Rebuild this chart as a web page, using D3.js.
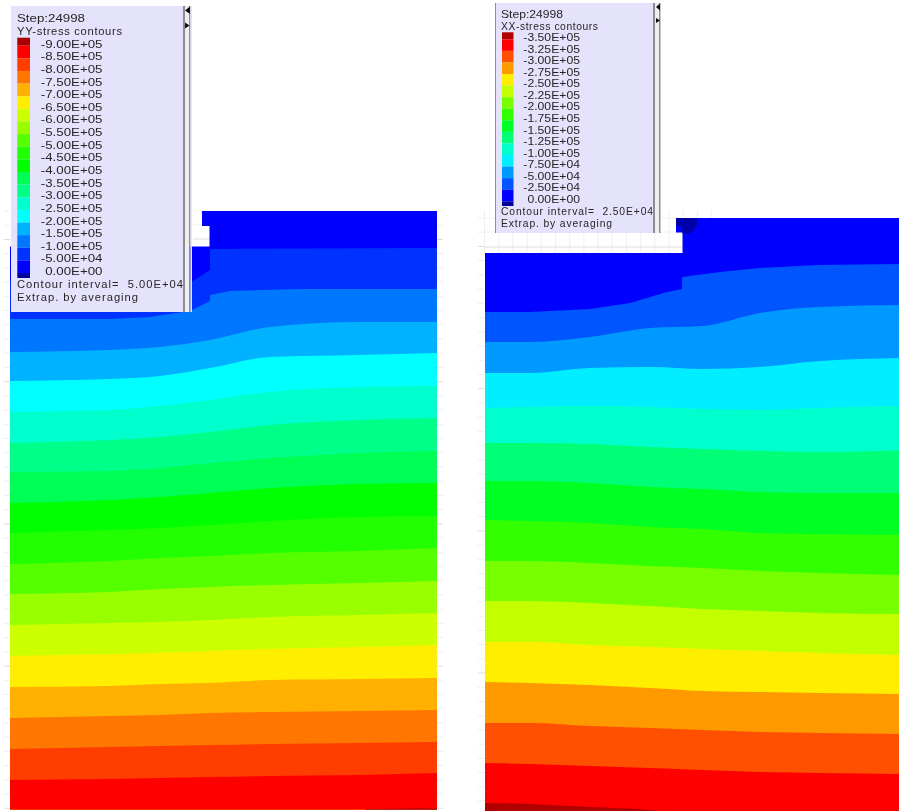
<!DOCTYPE html>
<html><head><meta charset="utf-8">
<script src="https://cdn.jsdelivr.net/npm/d3@7/dist/d3.min.js"></script>
<style>html,body{margin:0;background:#fff}svg{display:block}text{font-family:"Liberation Sans",Arial,sans-serif;fill:#262626;white-space:pre}</style>
</head><body><svg id="c" width="899" height="811"></svg>
<script>
// ---- YY stress panel: x along the model, depth below the model top
const yyX = [0,100,150,200,260,350,427];
const yyContours = [
 [141,139,136,129,116,111,111],
 [170,168,165,157,146,144,142],
 [201,199,195,189,181,176,175],
 [232,229,226,221,214,209,207],
 [261,260,257,252,247,242,240],
 [292,289,286,282,277,273,272],
 [322,319,317,314,310,306,305],
 [353,350,347,345,342,340,337],
 [383,381,378,376,374,372,370],
 [414,412,411,409,406,404,402],
 [445,443,442,440,438,436,434],
 [476,475,473,472,469,468,467],
 [507,505,504,502,501,500,499],
 [538,536,535,534,533,532,531],
 [569,568,567,566,565,564,562]
];
const yyFirst  = [[0,70],[183,70],[200,59],[200,38],[427,37]];
const yySecond = [[0,108],[100,108],[140,106],[180,100],[200,90],[200,84],[220,80],[290,78],[427,78]];
const yyLast   = [[355,598],[427,597.5]];
const yyColors = ["#0000ff","#0033ff","#0077ff","#00b2ff","#00ffff","#00ffcc","#00ff88","#00ff55","#00ff00","#22ff00","#55ff00","#99ff00","#ccff00","#ffee00","#ffb000","#ff7700","#ff3c00","#ff0000","#7a1010"];
const yyLegendColors = ["#a80000","#ff0000","#ff3c00","#ff7700","#ffb000","#ffee00","#ccff00","#99ff00","#55ff00","#22ff00","#00ff00","#00ff55","#00ff88","#00ffcc","#00ffff","#00b2ff","#0077ff","#0033ff","#0000ff"];
const yyLabels = ["-9.00E+05","-8.50E+05","-8.00E+05","-7.50E+05","-7.00E+05","-6.50E+05","-6.00E+05","-5.50E+05","-5.00E+05","-4.50E+05","-4.00E+05","-3.50E+05","-3.00E+05","-2.50E+05","-2.00E+05","-1.50E+05","-1.00E+05","-5.00E+04","0.00E+00"];
const yyOutline = [[192,0],[427,0],[427,598.5],[0,598.5],[0,35.5],[199.5,35.5],[199.5,15],[192,15]];

// ---- XX stress panel
const xxX = [0,45,105,165,218,275,335,420];
const xxContours = [
 [124,124,119,110,108,95,89,87],
 [155,155,150,149,151,149,143,140],
 [190,189,188,189,191,192,190,188],
 [225,225,226,229,231,233,234,232],
 [263,263,265,269,271,274,275,275],
 [302,303,305,309,311,315,316,317],
 [343,343,345,348,350,353,355,357],
 [383,383,385,388,391,393,395,396],
 [424,424,427,429,431,433,435,437],
 [464,465,467,470,473,474,475,476],
 [505,505,508,510,512,514,515,516],
 [545,546,548,550,552,554,555,556],
 [585,586,589,592,600,606,612,618]
];
const xxFirst  = [[0,94],[45,94],[105,91],[145,85],[182,74],[197,71],[197,59],[235,54],[275,50],[332,47],[420,46]];
const xxColors = ["#0000ff","#0055ff","#0099ff","#00eeff","#00ffcc","#00ff77","#00ff22","#33ff00","#77ff00","#c4ff00","#ffee00","#ff9900","#ff5000","#ff0000","#b00000"];
const xxLegendColors = ["#b00000","#ff0000","#ff5000","#ff9900","#ffee00","#c4ff00","#77ff00","#33ff00","#00ff22","#00ff77","#00ffcc","#00eeff","#0099ff","#0055ff","#0000ff"];
const xxLabels = ["-3.50E+05","-3.25E+05","-3.00E+05","-2.75E+05","-2.50E+05","-2.25E+05","-2.00E+05","-1.75E+05","-1.50E+05","-1.25E+05","-1.00E+05","-7.50E+04","-5.00E+04","-2.50E+04","0.00E+00"];
const xxOutline = [[191,0],[420,0],[420,600],[0,600],[0,35],[197.5,35],[197.5,14.5],[191,14.5]];
const xxHot = [[191,0],[212,0],[212,8],[205,15.5],[197,15.5],[197,8],[191,8]];

const root = d3.select("#c");
const defs = root.append("defs");
defs.append("filter").attr("id","soft").attr("filterUnits","userSpaceOnUse")
  .attr("x",-20).attr("y",-20).attr("width",940).attr("height",860)
  .append("feGaussianBlur").attr("stdDeviation",0.55);
const svg = root.append("g").attr("filter","url(#soft)");

function grid(xs, ys, x0, x1, y0, y1){
  // faint mesh of the model, showing only around the body
  const g = svg.append("g");
  ys.forEach((y,i)=>g.append("line").attr("x1",x0).attr("x2",x1).attr("y1",y).attr("y2",y)
    .attr("stroke", i%10===2 ? "#dedede" : "#efefef"));
  xs.forEach(x=>g.append("line").attr("x1",x).attr("x2",x).attr("y1",y0).attr("y2",y1).attr("stroke","#efefef"));
}

function panel(id, xRange, yRange, yDom, outline, colors, rows){
  const x = d3.scaleLinear().domain([0,xRange[1]-xRange[0]]).range(xRange);
  const y = d3.scaleLinear().domain(yDom).range(yRange);
  defs.append("clipPath").attr("id",id).append("path")
    .attr("d", d3.line().x(d=>x(d[0])).y(d=>y(d[1])).curve(d3.curveLinearClosed)(outline));
  const g = svg.append("g").attr("clip-path",`url(#${id})`);
  const area = d3.area().x(d=>x(d[0])).y0(d=>y(d[1])).y1(y(yDom[1]));
  rows.forEach((pts,i)=>{
    const stepped = pts.some((p,k)=>k>0 && p[0]===pts[k-1][0]);
    area.curve(stepped ? d3.curveLinear : d3.curveMonotoneX);
    g.append("path").attr("d",area(pts)).attr("fill",colors[i]);
  });
  return {x,y,g};
}
const zip = (xs,row)=>row.map((v,j)=>[xs[j],v]);

// mesh ticks
grid([], d3.range(0,600,14.22).map(d=>211+d), 4, 10, 0, 0);
grid([], d3.range(0,600,14.22).map(d=>211+d), 437, 443, 0, 0);
grid(d3.range(484.5,720,14.2), d3.range(0,600,14.22).map(d=>218+d), 478, 485, 210, 253);
grid([], [218,232,247], 485, 682, 0, 0);
grid([], [211,225,239], 193, 210, 0, 0);

const L = panel("clipL",[10,437],[211,810],[0,599],yyOutline,yyColors,
  [[[0,0],[427,0]], yyFirst, yySecond, ...yyContours.map(r=>zip(yyX,r)), yyLast]);
const R = panel("clipR",[485,905],[218,818],[0,600],xxOutline,xxColors,
  [[[0,0],[420,0]], xxFirst, ...xxContours.map(r=>zip(xxX,r))]);
R.g.append("path").attr("fill","#0000a8")
  .attr("d", d3.line().x(d=>R.x(d[0])).y(d=>R.y(d[1])).curve(d3.curveLinearClosed)(xxHot));

function legend(o){
  const g = svg.append("g");
  const bar=(x,w,f)=>g.append("rect").attr("x",x).attr("y",o.y0).attr("width",w).attr("height",o.y1-o.y0).attr("fill",f);
  bar(o.x0,o.x1-o.x0,"#e5e2fb");
  bar(o.x1,2,"#8d8d92");
  bar(o.x1+2,4,"#efeff1");
  bar(o.x1+6,1.5,"#8d8d92");
  if(o.tail) bar(o.x1+7.5,o.tail,"#e5e2fb");
  if(o.edge) bar(o.x0,1,o.edge);
  g.append("path").attr("d",o.arrowUp).attr("fill","#111");
  g.append("path").attr("d",o.arrowDown).attr("fill","#111");

  const n = o.labels.length-1;
  const y = d3.scaleLinear().domain([0,n]).range(o.labelRange);
  o.colors.forEach((c,i)=>{
    const top = i===0 ? o.swatchTop : y(i-1)+2, bot = y(i)+2;
    g.append("rect").attr("x",o.sx0).attr("width",o.sx1-o.sx0).attr("y",top).attr("height",bot-top).attr("fill",c);
  });
  g.append("rect").attr("x",o.sx0).attr("width",o.sx1-o.sx0).attr("y",y(n)+2).attr("height",o.swatchBot-y(n)-2).attr("fill","#00009c");
  // labels are compact vertically and stretched to the width they have in the reference
  g.selectAll(".lab").data(o.labels).join("text").attr("class","lab")
    .attr("x",o.labX).attr("y",(d,i)=>y(i)).attr("dy","0.36em").attr("text-anchor","end")
    .attr("font-size",o.fsLab).text(d=>d)
    .each(function(){
      const w=this.getComputedTextLength();
      d3.select(this).attr("textLength",w*o.stretch).attr("lengthAdjust","spacingAndGlyphs");
    });
  o.lines.forEach(l=>g.append("text").attr("x",o.tx).attr("y",l.y).attr("dy","0.36em")
    .attr("font-size",l.fs).attr("textLength",l.w).attr("lengthAdjust",l.adj||"spacing").text(l.t));
}

legend({x0:11,x1:183,y0:6,y1:312,tail:1.5,edge:null,
  arrowUp:"M190 6.5L185 10.5L190 14Z",arrowDown:"M185 22.5L189.5 25.5L185 28.5Z",
  labels:yyLabels,colors:yyLegendColors,labelRange:[43.7,271],swatchTop:37.7,swatchBot:278,
  sx0:17.3,sx1:30,labX:102.5,fsLab:11.2,stretch:13.3/11.2,tx:17,
  lines:[{t:"Step:24998",y:18,fs:11.2,w:68,adj:"spacingAndGlyphs"},{t:"YY-stress contours",y:31,fs:11.2,w:105},
         {t:"Contour interval=  5.00E+04",y:284,fs:11.2,w:166},{t:"Extrap. by averaging",y:296.5,fs:11.2,w:121}]});
legend({x0:495,x1:653,y0:3,y1:233,tail:0,edge:"#8d8d92",
  arrowUp:"M660 3.5L656 7L660 10.5Z",arrowDown:"M656 18L660 20.5L656 23Z",
  labels:xxLabels,colors:xxLegendColors,labelRange:[37.3,199.3],swatchTop:32.3,swatchBot:206,
  sx0:502,sx1:513.5,labX:580,fsLab:10.3,stretch:12.2/10.3,tx:501,
  lines:[{t:"Step:24998",y:14.5,fs:10.3,w:62,adj:"spacingAndGlyphs"},{t:"XX-stress contours",y:26,fs:10.3,w:97},
         {t:"Contour interval=  2.50E+04",y:211,fs:10.3,w:152},{t:"Extrap. by averaging",y:223,fs:10.3,w:111}]});
</script>
</body></html>
